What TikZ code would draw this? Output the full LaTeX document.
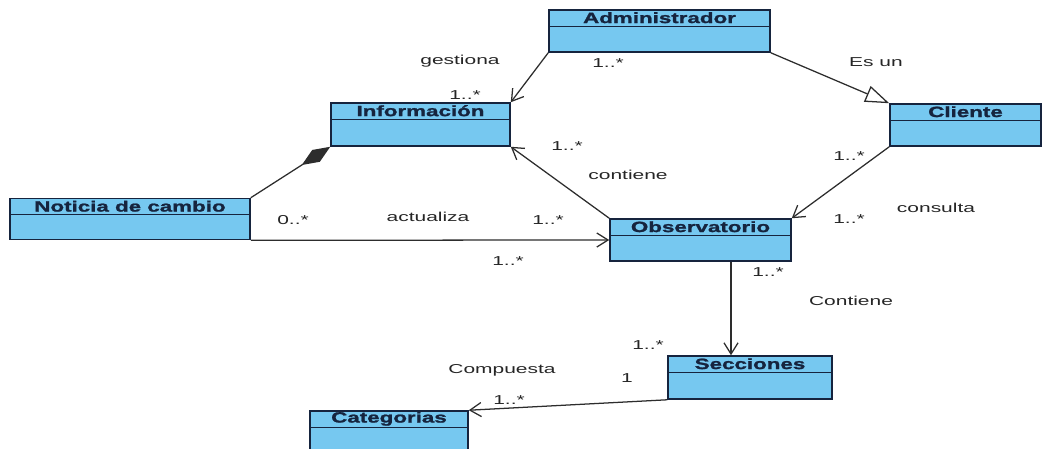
\documentclass[tikz,border=0pt]{standalone}
\usepackage{fontspec}
\setmainfont{Liberation Sans}[FakeStretch=1.62]
\newfontfamily\titlefont{Liberation Sans}[UprightFont=* Bold, FakeStretch=1.5, FakeBold=1.4]
\usetikzlibrary{arrows.meta}

\definecolor{classfill}{RGB}{118,200,240}
\definecolor{classedge}{RGB}{22,36,62}
\definecolor{linkgray}{RGB}{45,45,45}

\newcommand*{\unit}{0.025cm}
\newcommand*{\headH}{17}

\tikzset{
  classbox/.style={draw=classedge, fill=classfill, line width=1.1pt, inner sep=0pt},
  classname/.style={text=classedge, font=\fontsize{10.6}{12}\titlefont, inner sep=0pt},
  lbl/.style={text=black!85, font=\fontsize{9.2}{11}\selectfont, inner sep=0pt},
  assoc/.style={draw=linkgray, line width=0.9pt, -{Straight Barb[length=8pt,width=10pt]}},
  gener/.style={draw=linkgray, line width=0.9pt, -{Triangle[open,length=17pt,width=12pt,fill=white]}},
  compo/.style={draw=linkgray, line width=0.9pt, {Diamond[length=24pt,width=10pt]}-}
}

\begin{document}
\begin{tikzpicture}[x=\unit, y=-\unit]
\useasboundingbox (0,0) rectangle (1043,448);

% clases: nombre / centro x / centro y / ancho / alto / titulo
\foreach \nm/\cx/\cy/\w/\h/\txt in {
    admin/659.5/31/221/42/Administrador,
    info/420.5/124.5/179/43/Información,
    cliente/965.5/125/151/42/Cliente,
    noticia/130/219/240/41/Noticia de cambio,
    obs/700.5/240/181/42/Observatorio,
    secc/750/377.5/164/43/Secciones,
    cat/389/432/158/42/Categorias} {
    \node[classbox, minimum width=\w*\unit, minimum height=\h*\unit] (\nm) at (\cx,\cy) {};
    \draw[classedge, line width=1pt] ([yshift=-\headH*\unit]\nm.north west) -- ([yshift=-\headH*\unit]\nm.north east);
    \node[classname] (\nm-title) at ([yshift=-8.5*\unit]\nm.north) {\txt};
}

% relaciones
\draw[assoc] (admin.south west) -- (info.north east);
\draw[gener] (admin.south east) -- (cliente.north west);
\draw[compo] (info.south west) -- (noticia.north east);
\draw[assoc] (obs.north west) -- (info.south east);
\draw[assoc] (cliente.south west) -- (obs.north east);
\draw[assoc] (noticia.south east) -- (obs.west);
\draw[assoc] ([xshift=30.5*\unit]obs.south) -- ([xshift=30.5*\unit]obs.south |- secc.north);
\draw[assoc] (secc.south west) -- (cat.north east);

% etiquetas
\foreach \nm/\x/\y/\txt in {
    gest/460/61/gestiona, gestA/608/63/1..*, gestB/465/95/1..*,
    esun/876/62/Es un,
    cont/628/175/contiene, contA/548/220/1..*, contB/567/146/1..*,
    cons/936/208/consulta, consA/849/156/1..*, consB/849/219/1..*,
    act/428/217/actualiza, actA/293/220/0..*, actB/508/261/1..*,
    secA/768/272/1..*, secL/851/301/Contiene, secB/648/345/1..*,
    comp/502/370/Compuesta, compA/627/378/1, compB/509/400/1..*} {
    \node[lbl] (\nm) at (\x,\y) {\txt};
}

\end{tikzpicture}
\end{document}
